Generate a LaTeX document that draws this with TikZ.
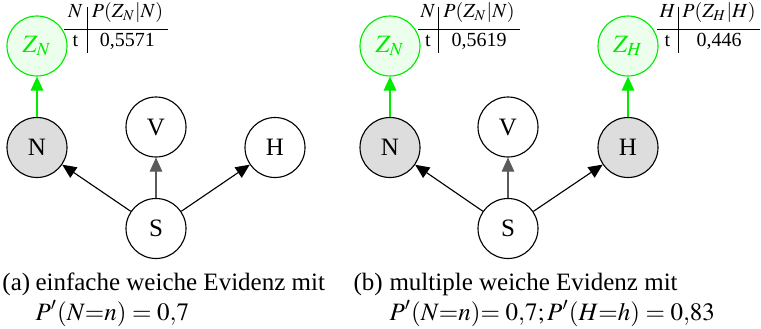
\documentclass[tikz,border=0pt]{standalone}
\usepackage{mathptmx}
\usepackage{fontspec}
\setmainfont{Liberation Serif}
\usetikzlibrary{arrows.meta}
\definecolor{zgreen}{RGB}{0,235,0}
\definecolor{zfill}{RGB}{236,255,236}
\definecolor{evfill}{RGB}{221,221,221}
\definecolor{edgegray}{RGB}{90,90,90}
\tikzset{
  var/.style={circle, draw=black, line width=0.45pt, minimum size=24pt, inner sep=0pt, font=\normalsize},
  evid/.style={var, fill=evfill},
  zvar/.style={var, draw=zgreen, fill=zfill, text=zgreen},
  dep/.style={line width=0.45pt, -{Triangle[length=5.6pt,width=5pt]}},
  zdep/.style={line width=0.45pt, draw=zgreen, -{Triangle[length=5.6pt,width=5pt,fill=zgreen]}},
  cell/.style={anchor=base, inner sep=0pt, font=\footnotesize},
  tabrule/.style={line width=0.4pt},
  captext/.style={anchor=base west, inner sep=0pt, align=left, font=\fontsize{10pt}{12pt}\selectfont},
}
\begin{document}
\begin{tikzpicture}[x=0.4pt, y=-0.4pt]
\useasboundingbox (0,0) rectangle (761,328);

% ---------- (a) ----------
\node[evid] (aN) at (37,147.5) {N};
\node[var]  (aV) at (156,127) {V};
\node[var]  (aH) at (275,147.5) {H};
\node[var]  (aS) at (156,228.5) {S};
\node[zvar] (aZ) at (37,46) {$Z_N$};
\draw[dep] (aS) -- (aN);
\draw[dep, draw=edgegray] (aS) -- (aV);
\draw[dep] (aS) -- (aH);
\draw[zdep] (aN) -- (aZ);

\node[cell] (at11) at (75.5,17) {$N$};
\node[cell] (at12) at (127.5,17) {$P(Z_N|N)$};
\node[cell] (at21) at (75.5,46.5) {t};
\node[cell] (at22) at (127.5,46.5) {0,5571};
\draw[tabrule] (64,29.5) -- (168,29.5);
\draw[tabrule] (87,7) -- (87,53);

\node[captext] (alab) at (2,290) {(a)};
\node[captext] (acap) at (35,320) {einfache weiche Evidenz mit\\$P'(N{=}n) = 0{,}7$};

% ---------- (b) ----------
\node[evid] (bN) at (390,147.5) {N};
\node[var]  (bV) at (508,127) {V};
\node[evid] (bH) at (628,147.5) {H};
\node[var]  (bS) at (508,228.5) {S};
\node[zvar] (bZN) at (390,46) {$Z_N$};
\node[zvar] (bZH) at (628,46) {$Z_H$};
\draw[dep] (bS) -- (bN);
\draw[dep, draw=edgegray] (bS) -- (bV);
\draw[dep] (bS) -- (bH);
\draw[zdep] (bN) -- (bZN);
\draw[zdep] (bH) -- (bZH);

\node[cell] (bt11) at (428,17) {$N$};
\node[cell] (bt12) at (479,17) {$P(Z_N|N)$};
\node[cell] (bt21) at (428,46.5) {t};
\node[cell] (bt22) at (479,46.5) {0,5619};
\draw[tabrule] (418,29.5) -- (520,29.5);
\draw[tabrule] (438,7) -- (438,53);

\node[cell] (ct11) at (667.5,17) {$H$};
\node[cell] (ct12) at (719,17) {$P(Z_H|H)$};
\node[cell] (ct21) at (667.5,46.5) {t};
\node[cell] (ct22) at (719,46.5) {0,446};
\draw[tabrule] (657,29.5) -- (760,29.5);
\draw[tabrule] (678,7) -- (678,53);

\node[captext] (blab) at (353,290) {(b)};
\node[captext] (bcap) at (389,320) {multiple weiche Evidenz mit\\$P'(N{=}n){=}\;0{,}7;P'(H{=}h) = 0{,}83$};
\end{tikzpicture}
\end{document}
